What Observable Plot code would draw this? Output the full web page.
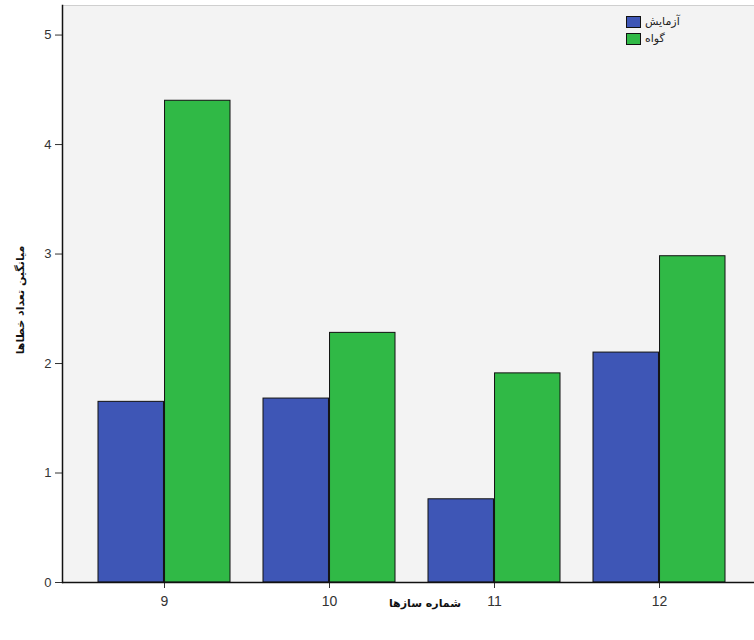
<!DOCTYPE html>
<html>
<head>
<meta charset="utf-8">
<script src="https://cdn.jsdelivr.net/npm/d3@7"></script>
<script src="https://cdn.jsdelivr.net/npm/@observablehq/plot@0.6"></script>
<style>
  html, body { margin: 0; padding: 0; background: #fff; }
  #wrap { position: relative; width: 754px; height: 640px; font-family: "Liberation Sans", Arial, sans-serif; }
  .ylab { position: absolute; left: 20px; top: 300px; transform: translate(-50%, -50%) rotate(-90deg); font-family: "DejaVu Sans", sans-serif; font-size: 11px; font-weight: bold; white-space: nowrap; color: #111; direction: rtl; }
  .xlab { position: absolute; left: 425px; top: 603px; transform: translate(-50%, -50%); font-family: "DejaVu Sans", sans-serif; font-size: 11px; font-weight: bold; white-space: nowrap; color: #111; direction: rtl; }
  .legend { position: absolute; left: 626px; top: 13px; font-family: "DejaVu Sans", sans-serif; font-size: 11px; color: #222; }
  .legend .item { display: flex; align-items: center; height: 17px; }
  .legend .sw { width: 15px; height: 12px; border: 1px solid #111; box-sizing: border-box; margin-right: 4px; }
</style>
</head>
<body>
<div id="wrap"></div>
<script>
const groups = ["9", "10", "11", "12"];
const seriesNames = ["آزمایش", "گواه"];
const experimental = [1.65, 1.68, 0.76, 2.10];
const control = [4.40, 2.28, 1.91, 2.98];
const yTicks = [0, 1, 2, 3, 4, 5];
const colors = ["#3e56b6", "#30b946"];
const yLabel = "میانگین تعداد خطاها";
const xLabel = "شماره سازها";

const W = 754, H = 640;
const margin = {left: 62, right: 0, top: 5, bottom: 58};

const expData = groups.map((g, i) => ({group: g, series: seriesNames[0], value: experimental[i]}));
const ctlData = groups.map((g, i) => ({group: g, series: seriesNames[1], value: control[i]}));

const xOptions = {
  type: "band",
  domain: groups,
  range: [margin.left, W - margin.right],
  paddingInner: 0.197,
  paddingOuter: 0.1865,
  align: 0.556
};
// half of the band (from the library's own band scale) holds each series' bar
const half = Plot.scale({x: xOptions}).bandwidth / 2;

const chart = Plot.plot({
  width: W,
  height: H,
  marginLeft: margin.left,
  marginRight: margin.right,
  marginTop: margin.top,
  marginBottom: margin.bottom,
  style: {fontFamily: "Liberation Sans, Arial, sans-serif", fontSize: "13px", color: "#333", background: "transparent", overflow: "visible"},
  x: {...xOptions, label: null, tickSize: 6, tickPadding: 8},
  y: {domain: [0, 5.27], ticks: yTicks, tickFormat: "d", tickSize: 7, tickPadding: 4, label: null},
  color: {domain: seriesNames, range: colors},
  marks: [
    Plot.frame({fill: "#f3f3f3", stroke: "#cfcfcf"}),
    Plot.barY(expData, {x: "group", y: "value", fill: "series", stroke: "#111", strokeWidth: 1, insetRight: half}),
    Plot.barY(ctlData, {x: "group", y: "value", fill: "series", stroke: "#111", strokeWidth: 1, insetLeft: half}),
    Plot.ruleY([0], {stroke: "#111", strokeWidth: 1.5}),
    Plot.frame({anchor: "left", stroke: "#111", strokeWidth: 1.5})
  ]
});

chart.querySelectorAll('[aria-label="x-axis tick label"] text, g[aria-label="x-axis"] text').forEach(t => t.setAttribute("font-size", "14"));

const wrap = document.getElementById("wrap");
wrap.appendChild(chart);

const yl = document.createElement("div"); yl.className = "ylab"; yl.textContent = yLabel; wrap.appendChild(yl);
const xl = document.createElement("div"); xl.className = "xlab"; xl.textContent = xLabel; wrap.appendChild(xl);
const lg = document.createElement("div"); lg.className = "legend";
seriesNames.forEach((s, i) => {
  const it = document.createElement("div"); it.className = "item";
  const sw = document.createElement("div"); sw.className = "sw"; sw.style.background = colors[i];
  const t = document.createElement("span"); t.textContent = s;
  it.appendChild(sw); it.appendChild(t); lg.appendChild(it);
});
wrap.appendChild(lg);
</script>
</body>
</html>
